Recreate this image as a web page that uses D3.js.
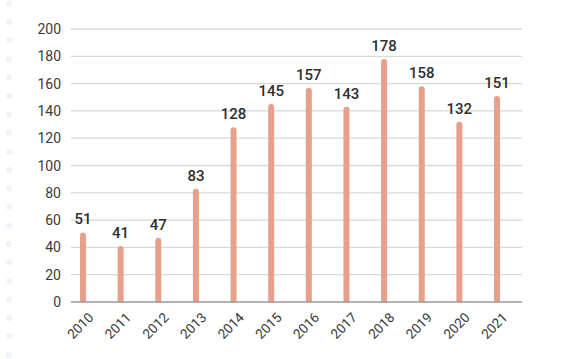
<!DOCTYPE html>
<html><head><meta charset="utf-8">
<script src="https://cdn.jsdelivr.net/npm/d3@7"></script>
<style>
body{margin:0;background:#fff;}
svg{display:block;font-family:Roboto, "DejaVu Sans", sans-serif;}
</style></head>
<body>
<svg id="c" width="579" height="359"></svg>
<script>
const years = ["2010","2011","2012","2013","2014","2015","2016","2017","2018","2019","2020","2021"];
const values = [51,41,47,83,128,145,157,143,178,158,132,151];
const yTicks = [0,20,40,60,80,100,120,140,160,180,200];

const svg = d3.select("#c");
const gridLeft = 71, gridRight = 522;
const x = d3.scalePoint().domain(years).range([83, 497]);
const y = d3.scaleLinear().domain([0, 200]).range([302, 29]);

// decorative dots on left edge
const dots = d3.range(0, 20);
svg.append("g").selectAll("circle").data(dots).join("circle")
  .attr("cx", 9).attr("cy", d => 3.5 + d * 18.5).attr("r", 3)
  .attr("fill", "#eef3fc");

// gridlines
svg.append("g").selectAll("line").data(yTicks.filter(d => d > 0)).join("line")
  .attr("x1", gridLeft).attr("x2", gridRight)
  .attr("y1", d => y(d)).attr("y2", d => y(d))
  .attr("stroke", "#d9d9d9").attr("stroke-width", 1.3);

// y tick labels
svg.append("g").selectAll("text").data(yTicks).join("text")
  .attr("x", 61).attr("y", d => y(d)).attr("dy", "0.36em")
  .attr("text-anchor", "end").attr("font-size", 14).attr("fill", "#3a3a3a")
  .text(d => d);

// bars
const bw = 6;
svg.append("g").selectAll("path").data(values).join("path")
  .attr("d", (d, i) => {
    const cx = x(years[i]), top = y(d), bot = y(0), r = bw / 2;
    return `M${cx - r},${bot} L${cx - r},${top + r} A${r},${r} 0 0 1 ${cx + r},${top + r} L${cx + r},${bot} Z`;
  })
  .attr("fill", "#e8a08a");

// baseline axis
svg.append("line").attr("x1", gridLeft).attr("x2", gridRight)
  .attr("y1", y(0)).attr("y2", y(0)).attr("stroke", "#999").attr("stroke-width", 1.5);

// value labels
svg.append("g").selectAll("text").data(values).join("text")
  .attr("x", (d, i) => x(years[i])).attr("y", d => y(d) - 8)
  .attr("text-anchor", "middle").attr("font-size", 15).attr("font-weight", 500)
  .attr("fill", "#2f2f2f").text(d => d);

// x labels
svg.append("g").selectAll("text").data(years).join("text")
  .attr("transform", d => `translate(${x(d) + 8},${y(0) + 13}) rotate(-45)`)
  .attr("text-anchor", "end").attr("dy", "0.35em")
  .attr("font-size", 13.5).attr("fill", "#3a3a3a").text(d => d);
</script>
</body></html>
